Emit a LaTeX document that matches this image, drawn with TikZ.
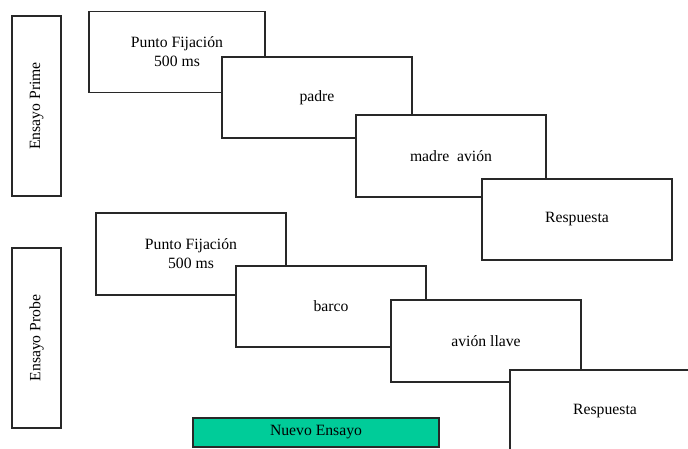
\documentclass[tikz,border=0pt]{standalone}
\usepackage{fontspec}
\setmainfont{Liberation Serif}
\definecolor{teal}{RGB}{0,204,153}
\definecolor{edge}{RGB}{40,40,40}
\begin{document}
\begin{tikzpicture}[x=1pt,y=-1pt,
  every node/.style={font=\fontsize{15.7}{19}\selectfont},
  stepbox/.style={draw=edge,line width=1.2pt,fill=white,inner sep=0pt,align=center,
    minimum width=190pt,minimum height=81pt},
  sidebox/.style={draw=edge,line width=1.2pt,fill=white,inner sep=0pt,
    minimum width=49pt,minimum height=180pt},
  newbox/.style={draw=edge,line width=1.2pt,fill=teal,inner sep=0pt,
    minimum width=246pt,minimum height=29pt}]
\useasboundingbox (0,0) rectangle (688,448);
\clip (0,0) rectangle (688,448);
\node[sidebox] (prime) at (36.5,106) {};
\node[rotate=90] (primet) at (prime.center) {Ensayo Prime};
\node[sidebox] (probe) at (36.5,338) {};
\node[rotate=90] (probet) at (probe.center) {Ensayo Probe};
\node[stepbox,minimum width=176pt] (b1) at (177,52) {Punto Fijación\\500 ms};
\node[stepbox] (b2) at (317,97.5) {\raisebox{-2pt}{padre}};
\node[stepbox,minimum height=82pt] (b3) at (451,156) {madre\ \ avión};
\node[stepbox] (b4) at (577,219.5) {Respuesta};
\node[stepbox,minimum height=82pt] (b5) at (191,254) {Punto Fijación\\500 ms};
\node[stepbox] (b6) at (331,306.5) {barco};
\node[stepbox,minimum height=82pt] (b7) at (486,341) {avión llave};
\node[stepbox,minimum height=82pt] (b8) at (605,411) {\raisebox{-2pt}{Respuesta}};
\node[newbox] (nuevo) at (316,432.5) {Nuevo Ensayo};
\end{tikzpicture}
\end{document}
